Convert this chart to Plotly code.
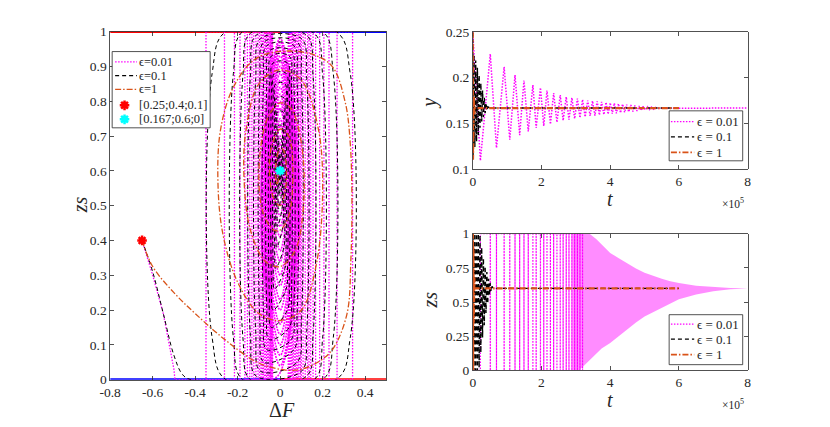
import plotly.graph_objects as go

PINK = "#FF00FF"
BLACK = "#000000"
ORANGE = "#D95319"
AX = "#262626"
FONT = "Liberation Serif, Times New Roman, serif"
W, H = 830, 427

# ---------------- phase plane (Delta F, zs) ----------------
# start of every trajectory: the red point
start_df, start_zs = -0.65, 0.4
end_df, end_zs = 0.0, 0.6

# eps = 0.01 : first descent, then rectangular loops, then decaying loops
pink_head_df = [-0.65, -0.6, -0.55, -0.52, -0.5, -0.495]
pink_head_zs = [0.4, 0.3, 0.19, 0.1, 0.03, 0.0]
pink_rect_right = [0.341, 0.268, 0.23, 0.206, 0.186, 0.167, 0.155, 0.144, 0.136,
                   0.129, 0.118, 0.108, 0.1, 0.095, 0.088, 0.083, 0.077, 0.072,
                   0.067, 0.062, 0.057, 0.053, 0.049, 0.045, 0.041, 0.038]
pink_rect_left = [-0.349, -0.262, -0.215, -0.189, -0.166, -0.154, -0.143, -0.133,
                  -0.124, -0.114, -0.104, -0.097, -0.09, -0.084, -0.079, -0.074,
                  -0.069, -0.064, -0.06, -0.056, -0.052, -0.048, -0.045, -0.041,
                  -0.038, -0.035]
pink_loop_right = [0.08, 0.075, 0.07, 0.066, 0.062, 0.058, 0.054, 0.05, 0.046,
                   0.042, 0.038, 0.034, 0.03, 0.026, 0.022, 0.018, 0.014, 0.01,
                   0.006, 0.003]
pink_loop_left = [-0.078, -0.073, -0.068, -0.064, -0.06, -0.056, -0.052, -0.048,
                  -0.044, -0.04, -0.036, -0.032, -0.028, -0.024, -0.02, -0.016,
                  -0.012, -0.009, -0.005, -0.003]
pink_loop_bottom = [0.02, 0.04, 0.07, 0.1, 0.13, 0.16, 0.2, 0.23, 0.27, 0.3,
                    0.34, 0.37, 0.41, 0.44, 0.47, 0.5, 0.53, 0.55, 0.57, 0.585]
pink_loop_top = [0.98, 0.97, 0.96, 0.945, 0.93, 0.915, 0.9, 0.88, 0.86, 0.84,
                 0.82, 0.8, 0.78, 0.75, 0.73, 0.7, 0.68, 0.66, 0.64, 0.62]

# eps = 0.1 : rounded loops spiralling in
black_head_df = [-0.65, -0.6, -0.55, -0.5, -0.46, -0.42]
black_head_zs = [0.4, 0.31, 0.19, 0.07, 0.015, 0.0]
black_right = [0.33, 0.25, 0.2, 0.155, 0.125, 0.1, 0.08, 0.065, 0.053,
               0.043, 0.035, 0.028, 0.022, 0.016, 0.011, 0.007, 0.003]
black_left = [-0.32, -0.22, -0.175, -0.14, -0.115, -0.095, -0.078, -0.063, -0.051,
              -0.041, -0.033, -0.026, -0.02, -0.015, -0.01, -0.006, -0.003]
black_bottom = [0.0, 0.0, 0.0, 0.01, 0.024, 0.05, 0.086, 0.115, 0.15,
                0.2, 0.26, 0.32, 0.38, 0.44, 0.49, 0.53, 0.56]
black_top = [1.0, 1.0, 0.995, 0.99, 0.98, 0.97, 0.96, 0.945, 0.93,
             0.91, 0.88, 0.85, 0.81, 0.77, 0.73, 0.69, 0.65]

# eps = 1 : smooth spiral
orange_df = [-0.65, -0.6, -0.5, -0.4, -0.26, -0.105, 0.02, 0.1, 0.19, 0.25, 0.315,
             0.333, 0.338, 0.33, 0.307, 0.245, 0.15, 0.0, -0.12, -0.22, -0.28, -0.293,
             -0.27, -0.2, -0.1, 0.0, 0.1, 0.17, 0.2, 0.18, 0.1, 0.0, -0.1, -0.16,
             -0.17, -0.14, -0.07, 0.0, 0.07, 0.11, 0.1, 0.05, 0.0, -0.06, -0.1, -0.08,
             -0.03, 0.0, 0.04, 0.06, 0.04, 0.0, -0.04, -0.05, -0.03, 0.0, 0.02, 0.03,
             0.015, 0.0, -0.02, -0.015, 0.0]
orange_zs = [0.4, 0.325, 0.25, 0.19, 0.115, 0.049, 0.028, 0.03, 0.055, 0.09, 0.19,
             0.345, 0.517, 0.68, 0.795, 0.9, 0.935, 0.943, 0.92, 0.84, 0.72, 0.574,
             0.42, 0.28, 0.19, 0.17, 0.2, 0.33, 0.537, 0.72, 0.86, 0.89, 0.85, 0.72,
             0.58, 0.43, 0.34, 0.325, 0.37, 0.5, 0.68, 0.78, 0.795, 0.75, 0.6, 0.48,
             0.43, 0.43, 0.47, 0.6, 0.7, 0.72, 0.67, 0.6, 0.52, 0.5, 0.53, 0.6,
             0.66, 0.665, 0.62, 0.56, 0.6]

# boundary segments at zs = 1 and zs = 0
edge_df = [-0.8, 0.0, 0.5]

# ---------------- time series (t in units of 1e5) ----------------
pink_t = [0, 0.222, 0.51, 0.69, 0.913, 1.077, 1.23, 1.365, 1.49, 1.615, 1.75,
          1.845, 1.97, 2.066, 2.16, 2.26, 2.354, 2.45, 2.546, 2.63, 2.72, 2.80,
          2.885, 2.965, 3.045, 3.12, 3.195, 3.27, 3.345, 3.415, 3.485, 3.555,
          3.62, 3.685, 3.75, 3.815, 3.88, 3.94, 4.0, 4.06, 4.12, 4.18, 4.24,
          4.30, 4.36, 4.42, 4.48, 4.54, 4.60, 4.66, 4.72, 4.78, 4.84, 4.90,
          4.96, 5.02, 5.08, 5.14, 5.20, 5.26, 5.32, 5.38, 5.44, 5.50, 8.0]
pink_y = [0.25, 0.109, 0.226, 0.123, 0.212, 0.132, 0.203, 0.137, 0.197, 0.141,
          0.192, 0.145, 0.189, 0.147, 0.186, 0.149, 0.183, 0.151, 0.181, 0.153,
          0.179, 0.154, 0.178, 0.155, 0.177, 0.156, 0.176, 0.157, 0.175, 0.158,
          0.1745, 0.1585, 0.174, 0.159, 0.1735, 0.1595, 0.173, 0.160, 0.1725,
          0.1605, 0.172, 0.161, 0.1715, 0.1615, 0.171, 0.162, 0.1705, 0.1625,
          0.170, 0.163, 0.1695, 0.1635, 0.169, 0.164, 0.1685, 0.1645, 0.168,
          0.165, 0.1677, 0.1655, 0.1673, 0.166, 0.1670, 0.1665, 0.1667]

black_t = [0, 0.01, 0.035, 0.06, 0.085, 0.11, 0.135, 0.16, 0.185, 0.21, 0.235,
           0.26, 0.285, 0.31, 0.335, 0.36, 0.385, 0.41, 0.44, 0.5, 6.0]
black_y = [0.25, 0.115, 0.225, 0.124, 0.219, 0.13, 0.211, 0.137, 0.203, 0.145,
           0.194, 0.152, 0.186, 0.157, 0.178, 0.161, 0.172, 0.164, 0.168, 0.1667,
           0.1667]

orange_t_y = [0, 0.006, 0.012, 0.02, 0.03, 0.045, 0.06, 6.0]
orange_y = [0.25, 0.11, 0.2, 0.14, 0.18, 0.16, 0.1667, 0.1667]

# zs(t), eps = 0.01: drops to 0, rises at 0.222, then short dips to 0
pink_zs_head_t = [0, 0.02, 0.222, 0.222]
pink_zs_head = [0.4, 0.0, 0.0, 1.0]
pink_dip_end = 3.2
# dense part, drawn as the band it fills
pink_env_t_up = [2.9, 3.4, 3.6, 3.8, 4.0, 4.25, 4.5, 4.75, 5.0, 5.25, 5.5,
                 5.75, 6.0, 6.5, 7.0, 7.5, 8.0]
pink_env_up = [1.0, 1.0, 0.96, 0.91, 0.86, 0.82, 0.78, 0.745, 0.715, 0.69,
               0.67, 0.653, 0.64, 0.62, 0.61, 0.603, 0.6]
pink_env_t_lo = [2.9, 3.1, 3.3, 3.5, 3.75, 4.0, 4.25, 4.5, 4.75, 5.0, 5.25,
                 5.5, 5.75, 6.0, 6.5, 7.0, 7.5, 8.0]
pink_env_lo = [0.0, 0.0, 0.05, 0.1, 0.16, 0.2, 0.25, 0.3, 0.35, 0.395, 0.43,
               0.46, 0.49, 0.52, 0.555, 0.58, 0.593, 0.6]

black_zt = [0, 0.012, 0.035, 0.06, 0.085, 0.11, 0.135, 0.16, 0.185, 0.21, 0.235,
            0.26, 0.285, 0.31, 0.335, 0.36, 0.385, 0.41, 0.435, 0.46, 0.485, 0.51,
            0.535, 0.56, 0.6, 6.0]
black_zs = [0.4, 1, 0, 1, 0, 1, 0, 1, 0.02, 0.99, 0.13, 0.9, 0.24, 0.82, 0.33,
            0.76, 0.42, 0.72, 0.49, 0.67, 0.55, 0.64, 0.58, 0.615, 0.6, 0.6]

orange_t_zs = [0, 0.005, 0.01, 0.02, 0.03, 0.045, 0.06, 6.0]
orange_zs_t = [0.4, 1.0, 0.0, 0.9, 0.35, 0.68, 0.6, 0.6]

# legend texts
phase_names = ["ϵ=0.01", "ϵ=0.1", "ϵ=1", "[0.25;0.4;0.1]", "[0.167;0.6;0]"]
time_names = ["ϵ = 0.01", "ϵ = 0.1", "ϵ = 1"]


# the page is shown with a small offset and squeeze; place things by target pixel
def cx(r):
    return (r - 6.8) / 0.992


def cy(r):
    return (r - 7.1) / 0.9655


def dom_x(a, b):
    return [cx(a) / W, cx(b) / W]


def dom_y(top, bottom):
    return [1 - cy(bottom) / H, 1 - cy(top) / H]


# ---------------- build paths ----------------
pk_x, pk_z = list(pink_head_df), list(pink_head_zs)
for r, l in zip(pink_rect_right, pink_rect_left):
    pk_x += [r, r, l, l]
    pk_z += [0, 1, 1, 0]

pl_x, pl_z = [pk_x[-1]], [pk_z[-1]]
for r, l, b, t in zip(pink_loop_right, pink_loop_left, pink_loop_bottom, pink_loop_top):
    h = t - b
    pl_x += [0, r, r, 0, l, l]
    pl_z += [b, b + 0.3 * h, t - 0.3 * h, t, t - 0.3 * h, b + 0.3 * h]
pl_x.append(end_df)
pl_z.append(end_zs)

bk_x, bk_z = list(black_head_df), list(black_head_zs)
for r, l, b, t in zip(black_right, black_left, black_bottom, black_top):
    h = t - b
    bk_x += [0.8 * r, r, r, 0.8 * r, 0.8 * l, l, l, 0.8 * l]
    bk_z += [b, b + 0.12 * h, t - 0.12 * h, t, t, t - 0.12 * h, b + 0.12 * h, b]
bk_x.append(end_df)
bk_z.append(end_zs)

pz_t, pz_z = list(pink_zs_head_t), list(pink_zs_head)
for tk in pink_t[2:]:
    if tk > pink_dip_end:
        break
    pz_t += [tk, tk, tk]
    pz_z += [1.0, 0.0, 1.0]

band_t = pink_env_t_up + pink_env_t_lo[::-1]
band_z = pink_env_up + pink_env_lo[::-1]

fig = go.Figure()

PINK_DASH = "1.5px,1.5px"
BLACK_DASH = "4px,3px"
ORANGE_DASH = "6px,2px,1.5px,2px"
pink_line = dict(color=PINK, width=1.2, dash=PINK_DASH)
black_line = dict(color=BLACK, width=1.2, dash=BLACK_DASH)
orange_line = dict(color=ORANGE, width=1.8, dash=ORANGE_DASH)


def add(x, y, line, xa="x", ya="y", **kw):
    fig.add_trace(go.Scatter(x=x, y=y, mode="lines", line=line, xaxis=xa, yaxis=ya,
                             showlegend=False, hoverinfo="skip", **kw))


def star(c):
    return dict(symbol="asterisk-open", size=8, color=c, line=dict(color=c, width=2.5))


# phase plane
for xs, ys, col in [(edge_df[:2], [1, 1], "red"), (edge_df[1:], [1, 1], "blue"),
                    (edge_df[:2], [0, 0], "blue"), (edge_df[1:], [0, 0], "red")]:
    add(xs, ys, dict(color=col, width=3))
add(pk_x, pk_z, dict(color=PINK, width=1.3, dash=PINK_DASH))
add(pl_x, pl_z, dict(color=PINK, width=1.6, dash="2px,1px", shape="spline", smoothing=1))
add(bk_x, bk_z, dict(color=BLACK, width=1, dash=BLACK_DASH, shape="spline", smoothing=1))
add(orange_df, orange_zs, dict(color=ORANGE, width=1.3, dash=ORANGE_DASH, shape="spline", smoothing=1))
fig.add_trace(go.Scatter(x=[start_df], y=[start_zs], mode="markers", marker=star("red"),
                         showlegend=False, hoverinfo="skip"))
fig.add_trace(go.Scatter(x=[end_df], y=[end_zs], mode="markers", marker=star("cyan"),
                         showlegend=False, hoverinfo="skip"))

# y(t)
add(pink_t, pink_y, dict(color=PINK, width=1.5, dash=PINK_DASH), "x2", "y2")
add(black_t, black_y, dict(color=BLACK, width=1.4, dash=BLACK_DASH), "x2", "y2")
add(orange_t_y, orange_y, dict(color=ORANGE, width=2.2, dash=ORANGE_DASH), "x2", "y2")

# zs(t)
add(band_t, band_z, dict(width=0), "x3", "y3", fill="toself", fillcolor="rgba(255,0,255,0.45)")
add(pz_t, pz_z, dict(color=PINK, width=1.2, dash=PINK_DASH), "x3", "y3")
add(black_zt, black_zs, dict(color=BLACK, width=1.4, dash=BLACK_DASH), "x3", "y3")
add(orange_t_zs, orange_zs_t, dict(color=ORANGE, width=2.2, dash=ORANGE_DASH), "x3", "y3")


# ---------------- legends, drawn on a pixel overlay (x4/y4) ----------------
def legend_box(x0, x1, y0, y1):
    add([cx(x0), cx(x1), cx(x1), cx(x0), cx(x0)], [cy(y0), cy(y0), cy(y1), cy(y1), cy(y0)],
        dict(color=AX, width=0.8), "x4", "y4", fill="toself", fillcolor="white")


def legend_text(x, y, text, size):
    fig.add_annotation(text=text, x=cx(x), y=cy(y), xref="x4", yref="y4", xanchor="left",
                       yanchor="middle", showarrow=False,
                       font=dict(family=FONT, size=size, color=AX))


legend_box(109, 208, 51.7, 128)
for yy, ln, name in zip([62, 75.7, 89.5], [pink_line, black_line, orange_line], phase_names[:3]):
    add([cx(112), cx(134)], [cy(yy), cy(yy)], dict(ln, width=1.2), "x4", "y4")
    legend_text(134.5, yy, name, 12.5)
for yy, col, name in zip([105.5, 119.5], ["red", "cyan"], phase_names[3:]):
    fig.add_trace(go.Scatter(x=[cx(121.5)], y=[cy(yy)], mode="markers", marker=star(col),
                             xaxis="x4", yaxis="y4", showlegend=False, hoverinfo="skip"))
    legend_text(134.5, yy, name, 12.5)

for top, rows in [(111, [121.7, 137, 152.5]), (315, [324.5, 339.5, 355])]:
    legend_box(671.7, 746, top, top + 50)
    for yy, ln, name in zip(rows, [pink_line, black_line, orange_line], time_names):
        add([cx(673.5), cx(697)], [cy(yy), cy(yy)], ln, "x4", "y4")
        legend_text(697.5, yy, name, 13)

axis_common = dict(showline=True, linecolor=AX, linewidth=0.8, mirror="ticks", ticks="inside",
                   ticklen=4, tickcolor=AX, tickwidth=0.8, showgrid=False, zeroline=False,
                   tickfont=dict(family=FONT, size=13.5, color=AX), fixedrange=True)

df_ticks = [-0.8, -0.6, -0.4, -0.2, 0, 0.2, 0.4]
t_ticks = [0, 2, 4, 6, 8]

fig.update_layout(
    width=W, height=H, margin=dict(l=0, r=0, t=0, b=0),
    paper_bgcolor="white", plot_bgcolor="rgba(0,0,0,0)",
    font=dict(family=FONT, color=AX), showlegend=False,
    xaxis=dict(domain=dom_x(107, 386), range=[-0.8, 0.5], tickvals=df_ticks,
               ticktext=[f"{v:g}" for v in df_ticks], anchor="y", **axis_common),
    yaxis=dict(domain=dom_y(31.7, 380), range=[0, 1], dtick=0.1, anchor="x", **axis_common),
    xaxis2=dict(domain=dom_x(473.3, 751), range=[0, 8], tickvals=t_ticks, anchor="y2", **axis_common),
    yaxis2=dict(domain=dom_y(32.3, 169), range=[0.1, 0.25], tickvals=[0.1, 0.15, 0.2, 0.25],
                anchor="x2", **axis_common),
    xaxis3=dict(domain=dom_x(473.3, 751), range=[0, 8], tickvals=t_ticks, anchor="y3", **axis_common),
    yaxis3=dict(domain=dom_y(234, 370.7), range=[0, 1], tickvals=[0, 0.25, 0.5, 0.75, 1],
                anchor="x3", **axis_common),
    xaxis4=dict(domain=[0, 1], range=[0, W], visible=False, fixedrange=True, anchor="y4"),
    yaxis4=dict(domain=[0, 1], range=[H, 0], visible=False, fixedrange=True, anchor="x4"),
)

labels = [
    ("Δ<i>F</i>", 281, 410, 0, 20),
    ("<i>zs</i>", 76, 205, -90, 20),
    ("<i>y</i>", 430, 103, -90, 20),
    ("<i>t</i>", 612, 199, 0, 20),
    ("<i>zs</i>", 430, 300, -90, 20),
    ("<i>t</i>", 612, 400, 0, 20),
    ("×10<sup>5</sup>", 736, 203, 0, 11.5),
    ("×10<sup>5</sup>", 736, 404, 0, 11.5),
]
for text, x, y, ang, size in labels:
    fig.add_annotation(text=text, x=cx(x) / W, y=1 - cy(y) / H, xref="paper", yref="paper",
                       xanchor="center", yanchor="middle", showarrow=False, textangle=ang,
                       font=dict(family=FONT, size=size, color=AX))

fit_page = """
document.documentElement.style.cssText = 'margin:0;padding:0;overflow:hidden;';
document.body.style.cssText = 'margin:0;padding:0;overflow:hidden;';
var gd = document.getElementById('{plot_id}');
Plotly.relayout(gd, {width: window.innerWidth, height: window.innerHeight});
"""
fig.write_html("out.html", config={"displayModeBar": False, "staticPlot": True},
               post_script=fit_page)
